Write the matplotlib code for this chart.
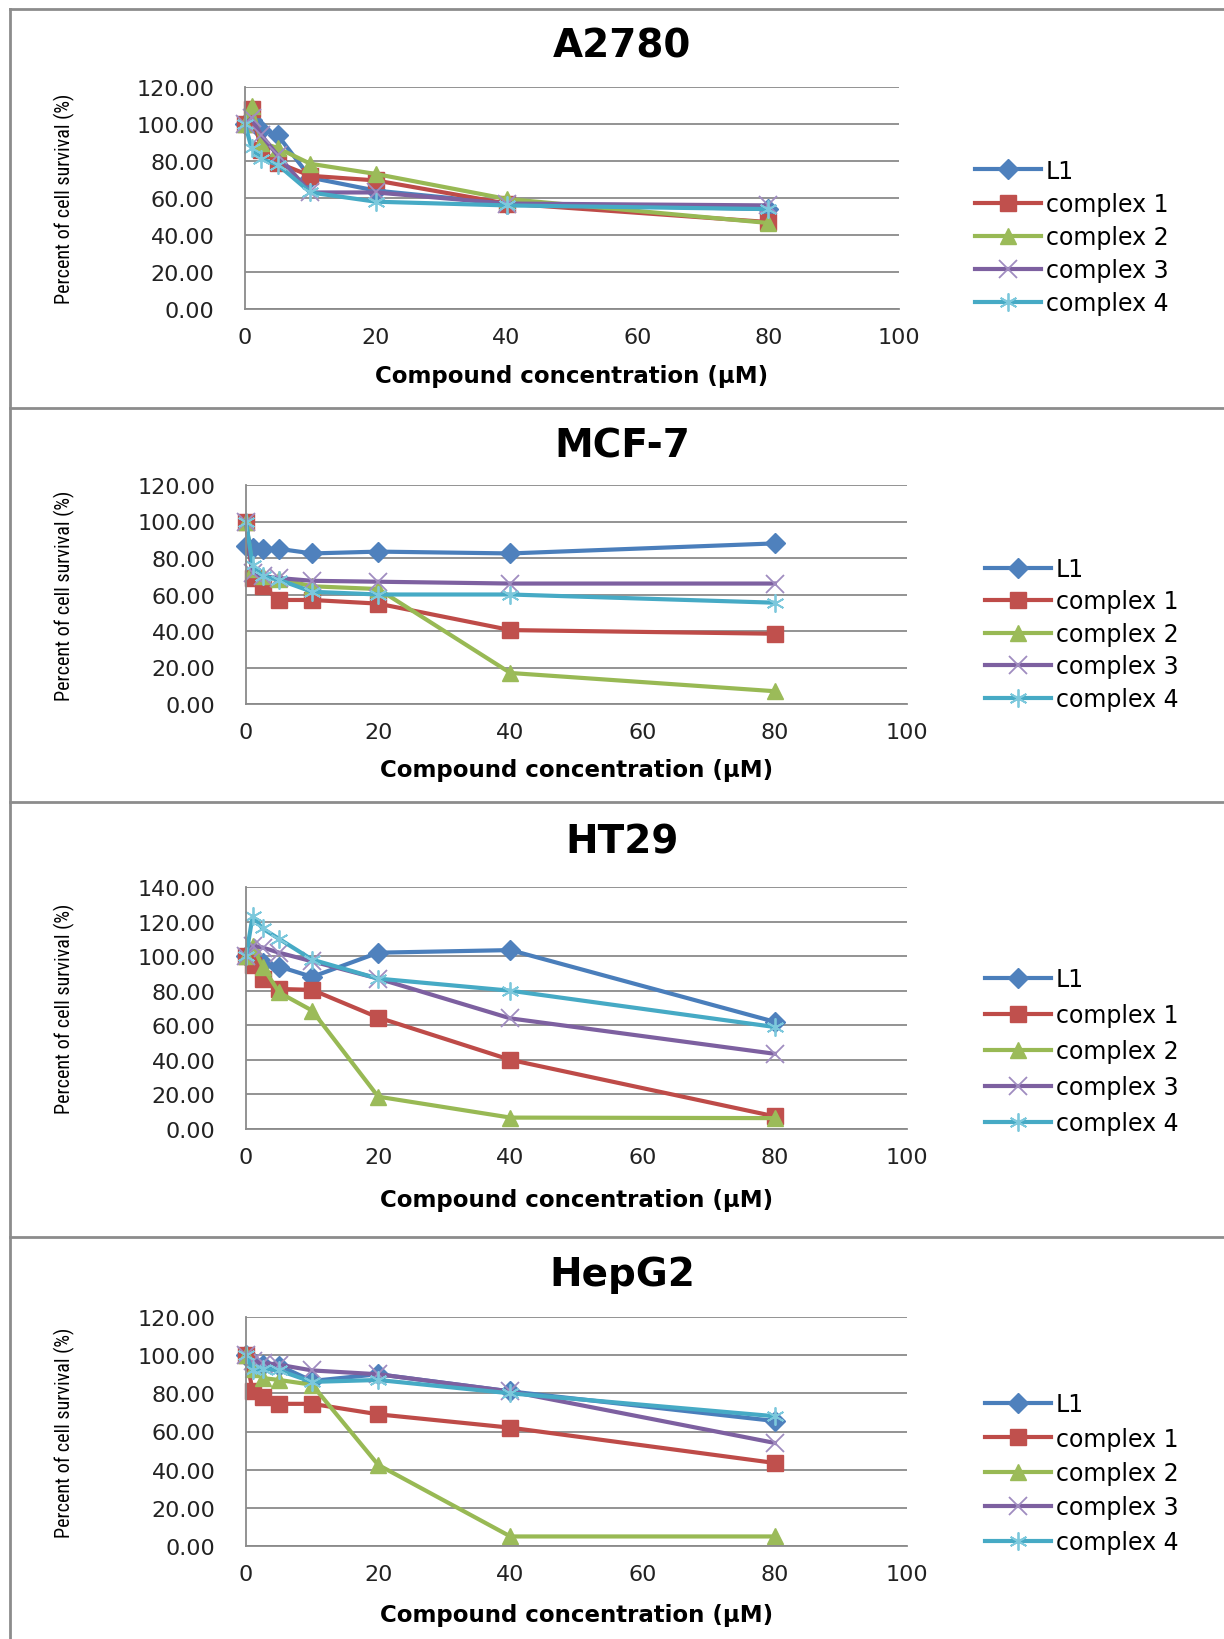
import matplotlib
matplotlib.use('Agg')
import matplotlib.pyplot as plt
from matplotlib.lines import Line2D
from matplotlib import font_manager

# concentrations (uM) shared by all cell lines
conc = [0, 1, 2.5, 5, 10, 20, 40, 80]
names = ['L1', 'complex 1', 'complex 2', 'complex 3', 'complex 4']

# A2780
a2780_l1 = [100, 102, 97, 94, 71, 64, 57, 54]
a2780_c1 = [100, 108, 86, 79, 72, 69.5, 57, 47]
a2780_c2 = [100, 110, 90, 87, 78.5, 73, 59.5, 46.5]
a2780_c3 = [100, 103, 94, 83, 63, 63, 57, 56]
a2780_c4 = [100, 87, 81, 78, 63, 58, 56, 54]

# MCF-7
mcf7_l1 = [86.5, 85.5, 85, 85, 82.5, 83.5, 82.5, 88]
mcf7_c1 = [100, 69, 64.5, 57, 57, 55, 40.5, 38.5]
mcf7_c2 = [100, 74, 70, 68.5, 64.5, 63, 17, 7]
mcf7_c3 = [100, 72, 70, 69, 67.5, 67, 66, 66]
mcf7_c4 = [100, 76, 70, 68, 61.5, 60, 60, 55.5]

# HT29
ht29_l1 = [100, 98, 96, 94, 88, 102, 103.5, 62]
ht29_c1 = [100, 95, 87, 81, 80.5, 64.5, 40, 7.3]
ht29_c2 = [100, 106, 94, 79, 68.5, 18.7, 6.6, 6.3]
ht29_c3 = [100, 106, 105, 102, 97, 87, 64, 43.5]
ht29_c4 = [100, 123, 116, 110, 98, 87, 80, 59]

# HepG2
hepg2_l1 = [100, 96, 95, 94.5, 86.5, 90, 81, 65.5]
hepg2_c1 = [100, 81, 78, 74.5, 74.5, 69, 62, 43.5]
hepg2_c2 = [100, 93, 88, 87, 84.5, 42.5, 5, 5]
hepg2_c3 = [100, 97, 96, 95, 92, 90, 81, 54]
hepg2_c4 = [100, 92, 93, 92, 86, 87, 80, 68]

panels = [
    ('A2780', [a2780_l1, a2780_c1, a2780_c2, a2780_c3, a2780_c4], 120),
    ('MCF-7', [mcf7_l1, mcf7_c1, mcf7_c2, mcf7_c3, mcf7_c4], 120),
    ('HT29', [ht29_l1, ht29_c1, ht29_c2, ht29_c3, ht29_c4], 140),
    ('HepG2', [hepg2_l1, hepg2_c1, hepg2_c2, hepg2_c3, hepg2_c4], 120),
]

colors = ['#4a7ebb', '#be4b48', '#98b954', '#7d60a0', '#46aac5']
mcolors = ['#4f81bd', '#c0504d', '#9bbb59', '#a08cc0', '#7cc8dc']
markers = ['D', 's', '^', 'x', (6, 2, 0)]
msizes = [10, 11, 11, 13, 13]

W, H = 1224, 1640
fig = plt.figure(figsize=(W / 100, H / 100), dpi=100)

# condensed face for the y label, if one is around
avail = {f.name for f in font_manager.fontManager.ttflist}
narrow, ysize = 'DejaVu Sans', 11.5
for cand in ['Liberation Sans Narrow', 'Roboto Condensed', 'Open Sans Condensed', 'Archivo Narrow', 'PT Sans Narrow']:
    if cand in avail:
        narrow, ysize = cand, 14.5
        break


def fx(px):
    return px / W


def fy(py):
    return 1 - py / H


# layout in pixels: left, right, top, bottom, title y, xlabel y, legend x, legend y, legend spacing
layout = [
    (245, 899, 88, 310, 47, 376, 975, 238, 0.39),
    (246, 907, 486, 705, 446, 771, 985, 635, 0.36),
    (246, 907, 888, 1130, 843, 1201, 985, 1052, 0.51),
    (246, 907, 1318, 1547, 1275, 1616, 985, 1474, 0.44),
]

grid_c = '#8a8a8a'
for (title, series, ymax), (l, r, t, b, ty, xly, lx, lyc, lsp) in zip(panels, layout):
    ax = fig.add_axes([fx(l), fy(b), fx(r - l), (b - t) / H])
    handles = []
    for vals, name, c, mc, m, ms in zip(series, names, colors, mcolors, markers, msizes):
        h, = ax.plot(conc, vals, color=c, lw=3, marker=m, ms=ms, mfc=mc, mec=mc,
                     mew=1.3 if m in ('x', (6, 2, 0)) else 1, label=name, clip_on=False)
        handles.append(h)
    ax.set_xlim(0, 100)
    ax.set_ylim(0, ymax)
    ax.set_xticks(range(0, 101, 20))
    ax.set_yticks(range(0, ymax + 1, 20))
    ax.set_yticklabels([f'{v:.2f}' for v in range(0, ymax + 1, 20)])
    ax.yaxis.grid(True, color=grid_c, lw=1.3)
    ax.set_axisbelow(True)
    for s in ['top', 'right']:
        ax.spines[s].set_visible(False)
    for s in ['left', 'bottom']:
        ax.spines[s].set_color(grid_c)
        ax.spines[s].set_linewidth(1.3)
    ax.tick_params(axis='both', length=0, labelsize=16, colors='#222222')
    ax.tick_params(axis='x', pad=13)
    ax.tick_params(axis='y', pad=22)
    ax.set_ylabel('Percent of cell survival (%)', family=narrow, fontsize=ysize)
    ax.yaxis.set_label_coords(fx(75), fy((t + b) / 2), transform=fig.transFigure)
    ax.set_xlabel('Compound concentration (µM)', fontsize=16.5, fontweight='bold')
    ax.xaxis.set_label_coords(fx((l + r) / 2), fy(xly), transform=fig.transFigure)
    ax.xaxis.label.set_va('center')
    fig.text(fx(622), fy(ty), title, fontsize=28, fontweight='bold', ha='center', va='center')
    fig.legend(handles, names, loc='center left', bbox_to_anchor=(fx(lx), fy(lyc)),
               frameon=False, fontsize=17, handlelength=2.8, handletextpad=0.2,
               labelspacing=lsp, borderpad=0, borderaxespad=0)

# panel frames
border = '#8c8c8c'
fig.add_artist(Line2D([fx(10), fx(10)], [fy(10), fy(H)], color=border, lw=2))
for yy in [10, 409, 803, 1238]:
    fig.add_artist(Line2D([fx(10), 1], [fy(yy), fy(yy)], color=border, lw=2))

fig.savefig('out.png', dpi=100)
